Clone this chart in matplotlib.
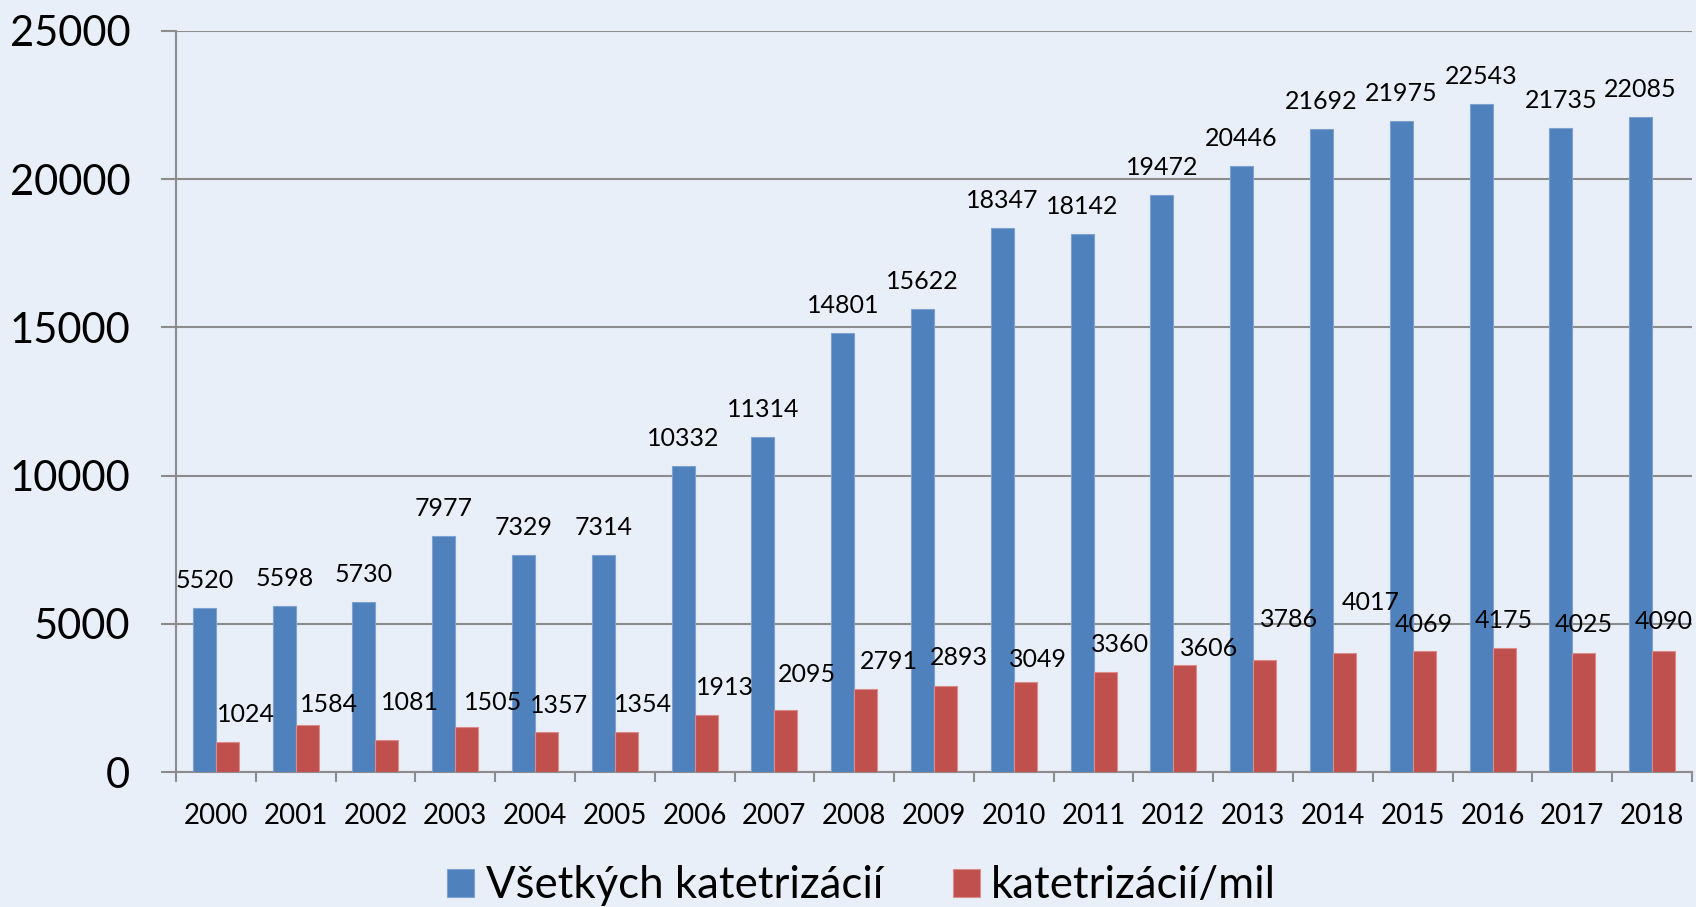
import numpy as np
import matplotlib
matplotlib.use("Agg")
import matplotlib.pyplot as plt

plt.rcParams['font.family'] = ['Lato', 'DejaVu Sans']

years = ['2000', '2001', '2002', '2003', '2004', '2005', '2006', '2007', '2008', '2009',
         '2010', '2011', '2012', '2013', '2014', '2015', '2016', '2017', '2018']
vsetky = [5520, 5598, 5730, 7977, 7329, 7314, 10332, 11314, 14801, 15622,
          18347, 18142, 19472, 20446, 21692, 21975, 22543, 21735, 22085]
na_mil = [1024, 1584, 1081, 1505, 1357, 1354, 1913, 2095, 2791, 2893,
          3049, 3360, 3606, 3786, 4017, 4069, 4175, 4025, 4090]
series_names = ['Všetkých katetrizácií', 'katetrizácií/mil']

# where the red labels sit relative to their bar top (pixels), as in the original
red_dx = [18.5, 21.5, 23, 26.5, 12, 16.5, 18.5, 21, 23.5, 13, 13, 15, 24, 24, 26, 0, 0, 0, 0]
red_dy = [27.5, 21, 37, 25, 26, 27.5, 27.5, 35.5, 27.5, 29, 22, 28, 17, 40, 50, 27, 28, 28, 29]

bg = '#E9EFF8'
blue = '#4F81BD'
red = '#C0504D'
grid_c = '#8C8C8C'

fig = plt.figure(figsize=(16.96, 9.07), dpi=100, facecolor=bg)
ax = fig.add_axes([176 / 1696, 135 / 907, (1692 - 176) / 1696, (772 - 31) / 907])
ax.set_facecolor(bg)

x = np.arange(len(years))
w = 0.288
b1 = ax.bar(x - w / 2, vsetky, w, color=blue, edgecolor='#7EA2D0', linewidth=0.8,
            label=series_names[0], zorder=3)
b2 = ax.bar(x + w / 2, na_mil, w, color=red, edgecolor='#D98C8A', linewidth=0.8,
            label=series_names[1], zorder=3)

for i in range(len(years)):
    ax.annotate(str(vsetky[i]), (x[i] - w / 2, vsetky[i]), xytext=(0, 27.5),
                textcoords='offset pixels', ha='center', va='center', fontsize=18, zorder=5)
    ax.annotate(str(na_mil[i]), (x[i] + w / 2, na_mil[i]), xytext=(red_dx[i], red_dy[i]),
                textcoords='offset pixels', ha='center', va='center', fontsize=18, zorder=5)

ax.set_xlim(-0.5, len(years) - 0.5)
ax.set_ylim(0, 25000)
ax.set_yticks(np.arange(0, 25001, 5000))
ax.yaxis.grid(True, color=grid_c, linewidth=1.5, zorder=0)
ax.tick_params(axis='y', direction='out', length=11, width=1.5, color=grid_c,
               labelsize=30, pad=22)

ax.set_xticks(x)
ax.set_xticklabels(years)
ax.set_xticks(np.arange(-0.5, len(years)), minor=True)
ax.tick_params(axis='x', which='major', length=0, labelsize=20, pad=22)
ax.tick_params(axis='x', which='minor', direction='out', length=7.5, width=1.5, color=grid_c)

for s in ['top', 'right']:
    ax.spines[s].set_visible(False)
for s in ['left', 'bottom']:
    ax.spines[s].set_color(grid_c)
    ax.spines[s].set_linewidth(1.5)

fig.legend(handles=[b1, b2], loc='center left', bbox_to_anchor=(447 / 1696, 1 - 886 / 907),
           ncol=2, frameon=False, prop={'size': 31.5},
           handlelength=0.62, handleheight=0.62, handletextpad=0.26, columnspacing=1.6,
           borderpad=0, borderaxespad=0)

fig.savefig('out.png', dpi=100, facecolor=bg)
